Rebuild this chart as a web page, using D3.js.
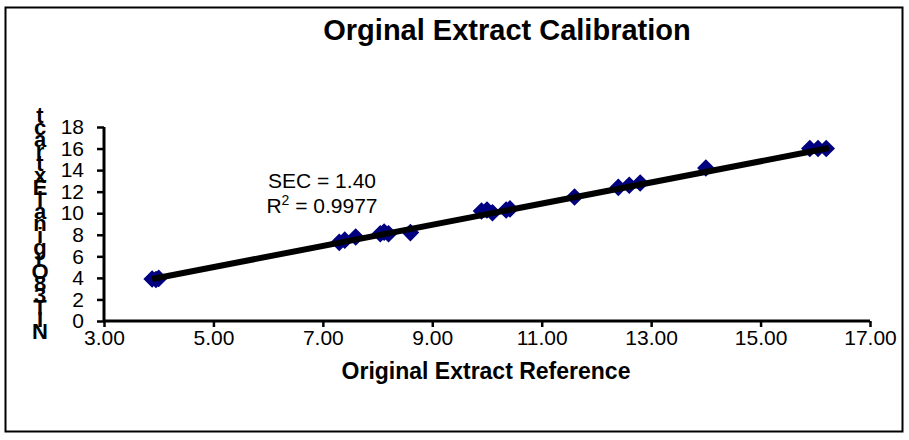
<!DOCTYPE html>
<html>
<head>
<meta charset="utf-8">
<script src="https://cdn.jsdelivr.net/npm/d3@7"></script>
<style>
  body { margin: 0; background: #fff; }
  text { font-family: "Liberation Sans", Arial, sans-serif; }
</style>
</head>
<body>
<div id="chart"></div>
<script>
// Chart data
var refX = [3.88, 3.95, 4.0, 7.3, 7.4, 7.6, 8.05, 8.12, 8.2, 8.6, 9.9, 10.0, 10.1, 10.35, 10.42, 11.6, 12.4, 12.6, 12.8, 14.0, 15.9, 16.05, 16.2];
var nirY = [3.9, 3.85, 3.95, 7.3, 7.5, 7.8, 8.1, 8.25, 8.1, 8.2, 10.2, 10.3, 10.05, 10.3, 10.4, 11.5, 12.4, 12.6, 12.8, 14.2, 16.0, 16.0, 16.0];
var fitX = [3.88, 16.25];
var fitY = [3.9, 16.05];
var xTicks = [3, 5, 7, 9, 11, 13, 15, 17];
var yTicks = [0, 2, 4, 6, 8, 10, 12, 14, 16, 18];
var yLabel = "NIT 38 Orginal Extract";

var w = 909, h = 440;
var font = "Liberation Sans, Arial, sans-serif";
var svg = d3.select("#chart").append("svg")
  .attr("width", w)
  .attr("height", h);

// outer frame
svg.append("rect")
  .attr("x", 5.5).attr("y", 7.5)
  .attr("width", 897).attr("height", 424)
  .attr("fill", "#fff").attr("stroke", "#000").attr("stroke-width", 2);

var x = d3.scaleLinear().domain([3, 17]).range([104, 870]);
var y = d3.scaleLinear().domain([0, 18]).range([321, 127]);

// title
svg.append("text")
  .attr("x", 507).attr("y", 40)
  .attr("text-anchor", "middle")
  .attr("font-size", 29).attr("font-weight", "bold")
  .text("Orginal Extract Calibration");

// x axis
var xAxis = svg.append("g")
  .attr("transform", "translate(0," + y(0) + ")")
  .call(d3.axisBottom(x).tickValues(xTicks).tickFormat(d3.format(".2f")).tickSize(6).tickPadding(3));
xAxis.select(".domain").attr("stroke-width", 3).attr("d", "M" + x(3) + ",0H" + x(17));
xAxis.selectAll(".tick line").attr("stroke-width", 2.5);
xAxis.selectAll(".tick text").attr("font-size", 21).attr("font-family", font);

// y axis
var yAxis = svg.append("g")
  .attr("transform", "translate(" + x(3) + ",0)")
  .call(d3.axisLeft(y).tickValues(yTicks).tickSize(7).tickPadding(13));
yAxis.select(".domain").attr("stroke-width", 3).attr("d", "M0," + y(18) + "V" + y(0));
yAxis.selectAll(".tick line").attr("stroke-width", 2.5);
yAxis.selectAll(".tick text").attr("font-size", 21).attr("font-family", font);

// x title
svg.append("text")
  .attr("x", 486).attr("y", 379)
  .attr("text-anchor", "middle")
  .attr("font-size", 23).attr("font-weight", "bold")
  .text("Original Extract Reference");

// y title, stacked letters (read bottom to top, spaces dropped)
var chars = yLabel.replace(/ /g, "").split("");
var yl = svg.append("text")
  .attr("font-size", 22).attr("font-weight", "bold")
  .attr("text-anchor", "middle");
chars.forEach(function(c, i) {
  yl.append("tspan")
    .attr("x", 40)
    .attr("y", 339 - i * 12)
    .text(c);
});

// points
var pts = refX.map(function(d, i) { return [d, nirY[i]]; });
svg.selectAll("path.pt")
  .data(pts)
  .enter()
  .append("path")
  .attr("class", "pt")
  .attr("d", d3.symbol().type(d3.symbolSquare).size(120))
  .attr("transform", function(d) { return "translate(" + x(d[0]) + "," + y(d[1]) + ") rotate(45)"; })
  .attr("fill", "#000080")
  .attr("stroke", "#000080")
  .attr("stroke-width", 1.5);

// fit line
svg.append("line")
  .attr("x1", x(fitX[0])).attr("y1", y(fitY[0]))
  .attr("x2", x(fitX[1])).attr("y2", y(fitY[1]))
  .attr("stroke", "#000").attr("stroke-width", 6);

// annotation
svg.append("text")
  .attr("text-anchor", "middle")
  .attr("font-size", 21)
  .attr("x", 322).attr("y", 188)
  .text("SEC = 1.40");
var r2 = svg.append("text")
  .attr("text-anchor", "middle")
  .attr("font-size", 21)
  .attr("x", 322).attr("y", 213);
r2.append("tspan").text("R");
r2.append("tspan").attr("font-size", 14).attr("dy", -8).text("2");
r2.append("tspan").attr("dy", 8).text(" = 0.9977");
</script>
</body>
</html>
